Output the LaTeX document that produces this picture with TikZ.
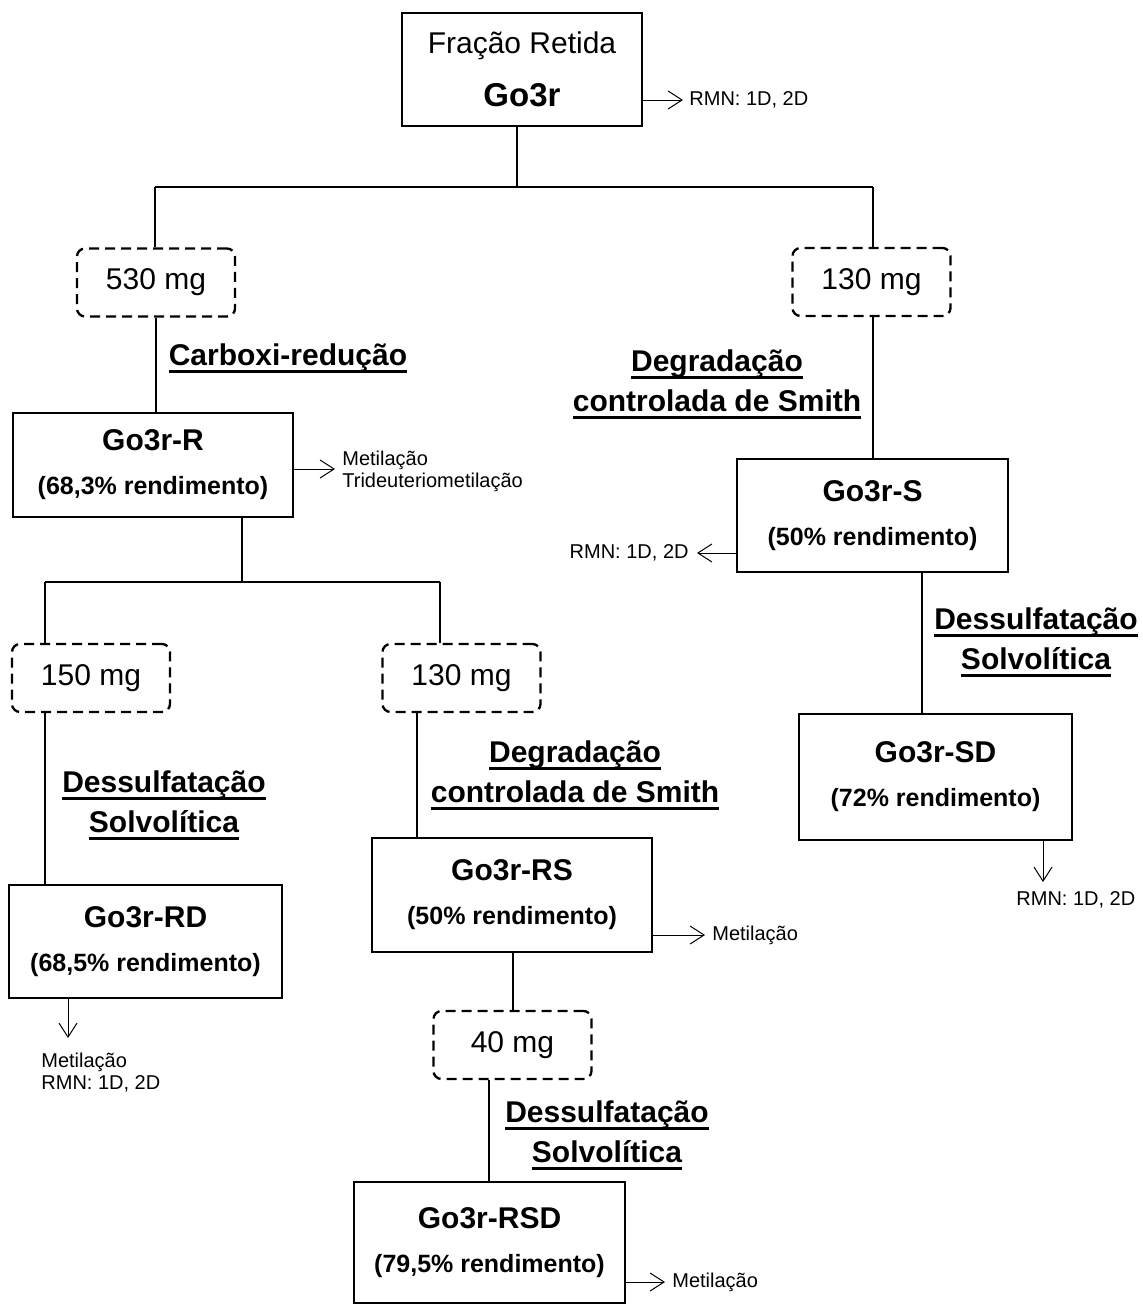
\documentclass[tikz,border=0pt]{standalone}
\usepackage{fontspec}
\setmainfont{Liberation Sans}
\usetikzlibrary{arrows.meta}
\newbox\myulbox
\newcommand\ulword[1]{{\setbox\myulbox\hbox{#1}\rlap{\smash{\rule[-3.6pt]{\wd\myulbox}{1.3pt}}}\box\myulbox}}
\newcommand\ttl[1]{{\fontsize{15}{22}\selectfont #1}}
\begin{document}
\begin{tikzpicture}[x=0.5pt,y=-0.5pt,
  box/.style={draw,line width=1.35pt,align=center,inner sep=0pt,
    font=\fontsize{12.5}{22}\selectfont\bfseries},
  mass/.style={draw,line width=1.15pt,dash pattern=on 5pt off 3pt,rounded corners=4pt,
    inner sep=0pt,minimum width=79pt,minimum height=34pt,font=\fontsize{15}{18}\selectfont},
  conn/.style={line width=1pt},
  arr/.style={line width=0.5pt,-{Straight Barb[length=7pt,width=9pt]}},
  small/.style={font=\fontsize{10}{11}\selectfont,inner sep=0pt,align=left},
  steplabel/.style={font=\fontsize{15}{20}\selectfont\bfseries,align=center,inner sep=0pt}]
\fill[white] (0,0) rectangle (1142,1306);
\useasboundingbox (0,0) rectangle (1142,1306);

% boxes
\node[box,minimum width=120pt,minimum height=56.5pt,font=\fontsize{15}{26.5}\selectfont] (top) at (522,69.5)
  {Fração Retida\\{\fontsize{16.5}{26.5}\selectfont\bfseries Go3r}};
\node[box,minimum width=140pt,minimum height=52pt] (GR) at (153,465) {\ttl{Go3r-R}\\(68,3\% rendimento)};
\node[box,minimum width=135.5pt,minimum height=56.5pt] (GS) at (872.5,515.5) {\ttl{Go3r-S}\\(50\% rendimento)};
\node[box,minimum width=136.5pt,minimum height=63pt] (SD) at (935.5,777) {\ttl{Go3r-SD}\\(72\% rendimento)};
\node[box,minimum width=140pt,minimum height=57pt] (RS) at (512,895) {\ttl{Go3r-RS}\\(50\% rendimento)};
\node[box,minimum width=136.5pt,minimum height=56.5pt] (RD) at (145.5,941.5) {\ttl{Go3r-RD}\\(68,5\% rendimento)};
\node[box,minimum width=135.5pt,minimum height=60.5pt] (RSD) at (489.5,1242.5) {\ttl{Go3r-RSD}\\(79,5\% rendimento)};

% mass boxes
\node[mass] (m530) at (156,282.5) {530 mg};
\node[mass] (m130a) at (871.5,282) {130 mg};
\node[mass] (m150) at (91,678) {150 mg};
\node[mass] (m130b) at (461.5,678) {130 mg};
\node[mass] (m40) at (512.5,1045) {40 mg};

% step labels
\node[steplabel] (s1) at (288,358) {\ulword{Carboxi-redução}};
\node[steplabel] (s2) at (717,381) {\ulword{Degradação}\\\ulword{controlada de Smith}};
\node[steplabel] (s3) at (164,802) {\ulword{Dessulfatação}\\\ulword{Solvolítica}};
\node[steplabel] (s4) at (575,772) {\ulword{Degradação}\\\ulword{controlada de Smith}};
\node[steplabel] (s5) at (1036,639) {\ulword{Dessulfatação}\\\ulword{Solvolítica}};
\node[steplabel] (s6) at (607,1132) {\ulword{Dessulfatação}\\\ulword{Solvolítica}};

% junction coordinates
\coordinate (j0) at (517,187);
\coordinate (jL) at (155,187);
\coordinate (jR) at (873,187);
\coordinate (j2) at (242,582);
\coordinate (jRL) at (45,582);
\coordinate (jRR) at (440,582);
\coordinate (c417) at (417,0);
\coordinate (c513) at (513,0);
\coordinate (c489) at (489,0);
\coordinate (c922) at (922,0);

% tree connectors
\draw[conn] (top.south -| j0) -- (j0);
\draw[conn] (jL) -- (jR);
\draw[conn] (jL) -- (m530.north -| jL);
\draw[conn] (jR) -- (m130a.north -| jR);
\draw[conn] (m530.south) -- (GR.north -| m530.south);
\draw[conn] (m130a.south -| jR) -- (GS.north -| jR);
\draw[conn] (GR.south -| j2) -- (j2);
\draw[conn] (jRL) -- (jRR);
\draw[conn] (jRL) -- (m150.north -| jRL);
\draw[conn] (jRR) -- (m130b.north -| jRR);
\draw[conn] (m150.south -| jRL) -- (RD.north -| jRL);
\draw[conn] (m130b.south -| c417) -- (RS.north -| c417);
\draw[conn] (RS.south -| c513) -- (m40.north -| c513);
\draw[conn] (m40.south -| c489) -- (RSD.north -| c489);
\draw[conn] (GS.south -| c922) -- (SD.north -| c922);

% analysis arrows
\coordinate (a1) at (683,100);
\node[small,anchor=west] (n1) at (689,100) {RMN: 1D, 2D};
\draw[arr] (top.east |- a1) -- (a1);

\coordinate (a2) at (335,469);
\node[small,anchor=west] (n2) at (342,471) {Metilação\\Trideuteriometilação};
\draw[arr] (GR.east |- a2) -- (a2);

\coordinate (a3) at (697,553);
\node[small,anchor=east] (n3) at (689,553) {RMN: 1D, 2D};
\draw[arr] (GS.west |- a3) -- (a3);

\coordinate (a4) at (1043,882);
\node[small,anchor=west] (n4) at (1016,900) {RMN: 1D, 2D};
\draw[arr] (SD.south -| a4) -- (a4);

\coordinate (a5) at (705,935);
\node[small,anchor=west] (n5) at (712,935) {Metilação};
\draw[arr] (RS.east |- a5) -- (a5);

\coordinate (a6) at (68,1038);
\node[small,anchor=north west] (n6) at (41,1053) {Metilação\\RMN: 1D, 2D};
\draw[arr] (RD.south -| a6) -- (a6);

\coordinate (a7) at (665,1282);
\node[small,anchor=west] (n7) at (672,1282) {Metilação};
\draw[arr] (RSD.east |- a7) -- (a7);
\end{tikzpicture}
\end{document}
